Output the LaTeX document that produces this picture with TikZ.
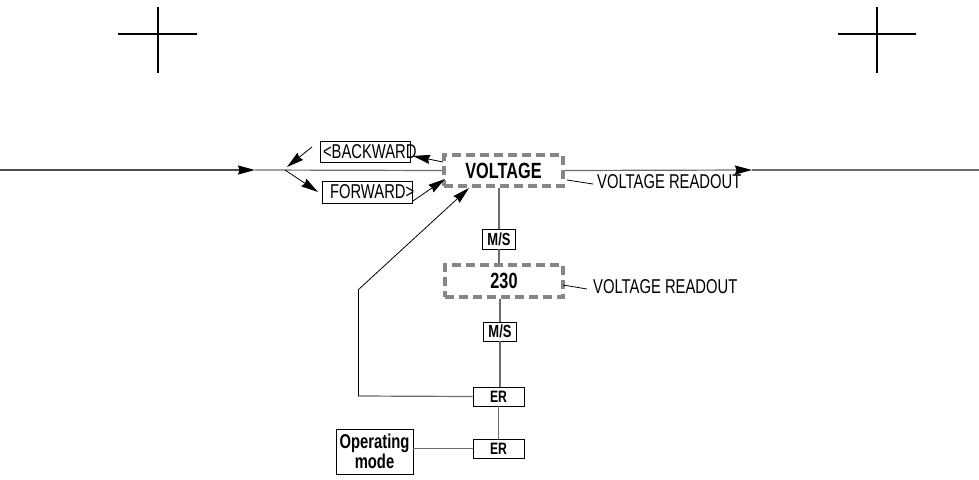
\documentclass[tikz,border=0pt]{standalone}
\usepackage{fontspec}
\setmainfont{Liberation Sans}[FakeStretch=0.74]
\usetikzlibrary{arrows.meta}
\tikzset{
  gline/.style={draw=gray!85!black, line width=1.2pt},
  dline/.style={draw=black!70, line width=1.2pt},
  kline/.style={draw=black, line width=0.8pt},
  arrtip/.style={-{Stealth[length=17pt,width=9pt,inset=1.5pt,color=black]}},
  plainbox/.style={draw=black, line width=0.8pt, inner sep=0pt, fill=white},
  dashbox/.style={draw=gray!95, line width=3.5pt, dash pattern=on 9pt off 5pt, inner sep=0pt},
  smallbold/.style={font=\fontsize{16.5}{18}\selectfont\bfseries},
  msbold/.style={font=\fontsize{17.5}{19}\selectfont\bfseries},
  regtext/.style={font=\fontsize{20}{22}\selectfont},
  crossline/.style={draw=black, line width=2pt}
}
\begin{document}
\begin{tikzpicture}[x=1pt,y=-1pt]
\useasboundingbox (0,0) rectangle (979,479);
% registration crosses
\draw[crossline] (118,34) -- (197,34);
\draw[crossline] (157.5,7) -- (157.5,73);
\draw[crossline] (838,34) -- (916,34);
\draw[crossline] (877,7) -- (877,73);

% nodes
\node[dashbox, minimum width=119pt, minimum height=31pt, font=\fontsize{22}{24}\selectfont\bfseries] (volt) at (503.5,170.5) {VOLTAGE};
\node[plainbox, minimum width=90pt, minimum height=21pt, regtext] (back) at (365,152) {\makebox[90pt][l]{\hspace{3pt}<BACKWARD}};
\node[plainbox, minimum width=90pt, minimum height=22pt, regtext] (fwd) at (367,192) {\makebox[90pt][l]{\hspace{8pt}FORWARD>}};
\node[plainbox, minimum width=33pt, minimum height=20pt, msbold] (ms1) at (499,239) {M/S};
\node[dashbox, minimum width=118pt, minimum height=32pt, font=\fontsize{22}{24}\selectfont\bfseries] (v230) at (504,281) {230};
\node[plainbox, minimum width=33pt, minimum height=19pt, msbold] (ms2) at (500,331.5) {M/S};
\node[plainbox, minimum width=51pt, minimum height=19pt, smallbold] (er1) at (498.5,396.5) {ER};
\node[plainbox, minimum width=51pt, minimum height=19pt, smallbold] (er2) at (498.5,448.5) {ER};
\node[plainbox, minimum width=77pt, minimum height=45pt, align=center, font=\fontsize{20}{20}\selectfont\bfseries] (op) at (374.5,451.5) {Operating\\mode};
\node[regtext, anchor=west, inner sep=0pt] (lab1) at (597,182) {VOLTAGE READOUT};
\node[regtext, anchor=west, inner sep=0pt] (lab2) at (593,287) {VOLTAGE READOUT};

% coordinates
\coordinate (L) at (0,170);
\coordinate (A1) at (255,170);
\coordinate (J) at (285,170);
\coordinate (A2) at (752,170);
\coordinate (R) at (979,170);
\coordinate (bstart) at (312,147);
\coordinate (btip) at (287,167);
\coordinate (ftip) at (318,192);
\coordinate (vb) at (443,162);
\coordinate (bt) at (413,156);
\coordinate (fs) at (413,201);
\coordinate (vf) at (445,179);
\coordinate (c1) at (358,396);
\coordinate (c2) at (358,290);
\coordinate (vd) at (469,188);
\coordinate (l1s) at (567,180);
\coordinate (l1e) at (593,184);
\coordinate (l2s) at (563,285);
\coordinate (l2e) at (587,289);

% main line
\draw[dline, arrtip] (L) -- (A1);
\draw[gline] (A1) -- (volt.west);
\draw[gline, arrtip] (volt.east) -- (A2);
\draw[gline] (A2) -- (R);

% branch arrows
\draw[kline, arrtip] (bstart) -- (btip);
\draw[kline, arrtip] (J) -- (ftip);
\draw[kline, arrtip] (vb) -- (bt);
\draw[kline, arrtip] (fs) -- (vf);

% vertical chain
\draw[gline] (ms1.north) -- (ms1.north |- volt.south);
\draw[gline] (ms1.south) -- (ms1.south |- v230.north);
\draw[gline] (ms2.north) -- (ms2.north |- v230.south);
\draw[gline] (ms2.south) -- (ms2.south |- er1.north);
\draw[gline] (er1.south) -- (er2.north);
\draw[gline] (op.east |- er2.west) -- (er2.west);

% feedback loop
\draw[gline] (er1.west) -- (c1);
\draw[kline] (c1) -- (c2);
\draw[kline, arrtip] (c2) -- (vd);

% leaders
\draw[kline] (l1s) -- (l1e);
\draw[kline] (l2s) -- (l2e);
\end{tikzpicture}
\end{document}
